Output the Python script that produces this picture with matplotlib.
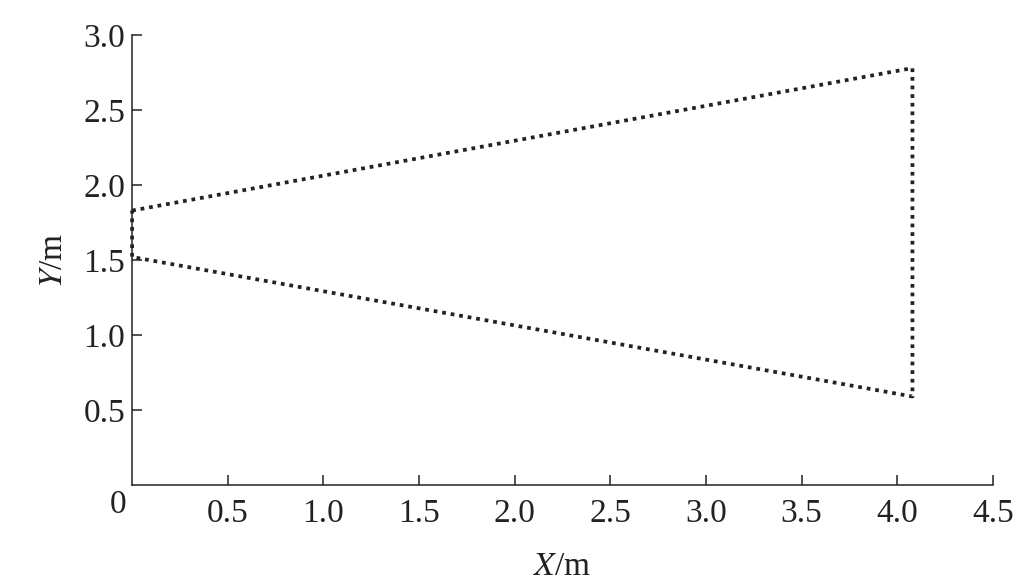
import matplotlib.pyplot as plt

# vertices of the region outline (m)
x_pts = [0.0, 4.08, 4.08, 0.0, 0.0]
y_pts = [1.83, 2.78, 0.59, 1.52, 1.83]

x_ticks = [0.5, 1.0, 1.5, 2.0, 2.5, 3.0, 3.5, 4.0, 4.5]
y_ticks = [0.5, 1.0, 1.5, 2.0, 2.5, 3.0]

plt.rcParams['font.family'] = ['Liberation Serif', 'DejaVu Serif']
plt.rcParams['mathtext.fontset'] = 'stix'

fig = plt.figure(figsize=(10.32, 5.85), dpi=100)
ax = fig.add_axes([0.128, 0.171, 0.834, 0.769])

ax.plot(x_pts, y_pts, color='#222222', linewidth=2.7, linestyle=(0, (1, 1.3)),
        dash_capstyle='butt', clip_on=False)

ax.set_xlim(0, 4.5)
ax.set_ylim(0, 3.0)
ax.set_xticks(x_ticks)
ax.set_yticks(y_ticks)
ax.set_xticklabels([f'{v:.1f}' for v in x_ticks])
ax.set_yticklabels([f'{v:.1f}' for v in y_ticks])
ax.tick_params(direction='in', length=7, width=1.1, labelsize=24, colors='#222222')
ax.tick_params(axis='x', pad=10)
ax.tick_params(axis='y', pad=5)

for s in ['top', 'right']:
    ax.spines[s].set_visible(False)
for s in ['left', 'bottom']:
    ax.spines[s].set_linewidth(1.1)
    ax.spines[s].set_color('#222222')

# single origin label
ax.text(-0.03, -0.03, '0', transform=ax.transData, ha='right', va='top', fontsize=24, color='#222222')

ax.set_xlabel('$X$/m', fontsize=24, color='#222222', labelpad=16)
ax.set_ylabel('$Y$/m', fontsize=24, color='#222222', labelpad=10)

fig.savefig('out.png', dpi=100)
